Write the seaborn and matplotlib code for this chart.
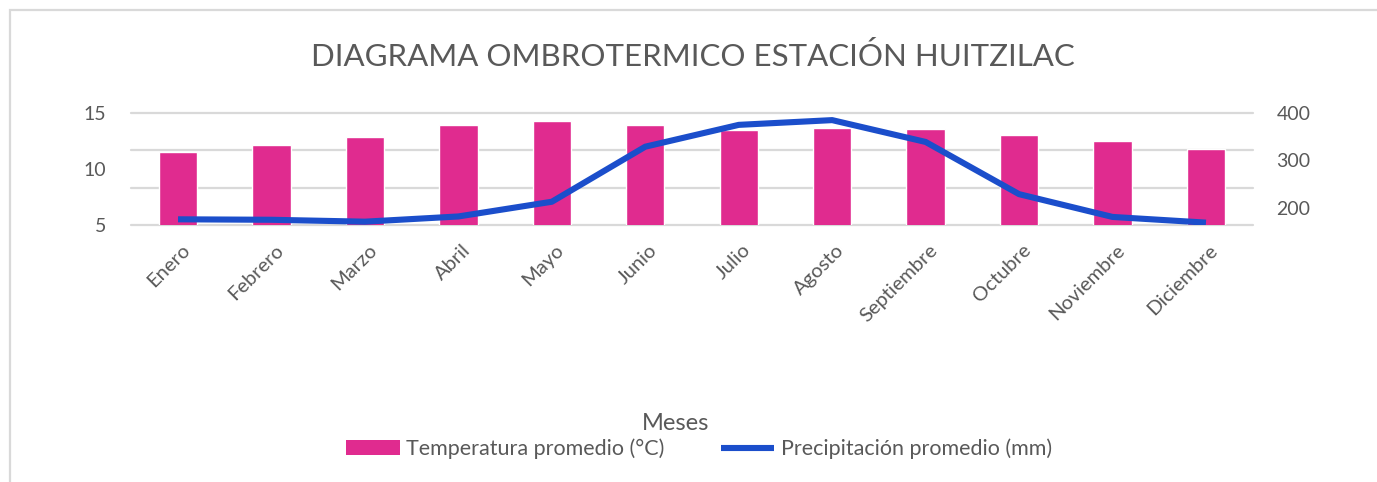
import numpy as np
import pandas as pd
import matplotlib
matplotlib.use("Agg")
import matplotlib.pyplot as plt
import matplotlib.transforms as mtransforms
import seaborn as sns
from matplotlib.patches import Patch, Rectangle
from matplotlib.lines import Line2D

# ---------------- data ----------------
months = ["Enero", "Febrero", "Marzo", "Abril", "Mayo", "Junio", "Julio",
          "Agosto", "Septiembre", "Octubre", "Noviembre", "Diciembre"]
temperatura = [11.5, 12.1, 12.9, 13.9, 14.3, 13.9, 13.5, 13.7, 13.6, 13.0, 12.5, 11.8]
precipitacion = [176, 175, 171, 182, 213, 329, 375, 385, 339, 229, 181, 169]
left_ticks = [5, 10, 15]
right_ticks = [200, 300, 400]

title = "DIAGRAMA OMBROTERMICO ESTACIÓN HUITZILAC"
xlabel = "Meses"
temp_label = "Temperatura promedio (°C)"
prec_label = "Precipitación promedio (mm)"

PINK = "#E02B8F"
BLUE = "#1B4ECB"
GRID = "#D9D9D9"
TXT = "#595959"

sns.set_theme(style="white")
plt.rcParams["font.family"] = ["Lato", "DejaVu Sans"]

W, H = 1377, 482
fig = plt.figure(figsize=(W / 100, H / 100), dpi=100)

# outer chart frame (light gray border)
fig.patches.append(Rectangle((10 / W, -0.2), 1.2, 1.2 - 10 / H,
                             transform=fig.transFigure, fill=False,
                             ec=GRID, lw=1.6, zorder=0))

ax = fig.add_axes([131.3 / W, 1 - 225 / H, (1252.7 - 131.3) / W, (225 - 113) / H])
df = pd.DataFrame({"Mes": months, "Temp": temperatura, "Prec": precipitacion})

# horizontal gridlines
for f in [0, 1 / 3, 2 / 3, 1]:
    ax.plot([0, 1], [f, f], transform=ax.transAxes, color=GRID, lw=1.6,
            zorder=0, clip_on=False)

sns.barplot(data=df, x="Mes", y="Temp", color=PINK, saturation=1, width=0.41,
            ax=ax, zorder=2)
ax.set_ylim(5, 15)
ax.set_yticks(left_ticks)

ax2 = ax.twinx()
sns.pointplot(data=df, x="Mes", y="Prec", color=BLUE, markers="", linestyles="-",
              errorbar=None, ax=ax2, linewidth=4.4, solid_capstyle="butt",
              solid_joinstyle="round")
ax2.set_ylim(164, 400)
ax2.set_yticks(right_ticks)
ax.set_xlim(-0.5, len(months) - 0.5)

for a in (ax, ax2):
    for s in a.spines.values():
        s.set_visible(False)
    a.set_xlabel("")
    a.set_ylabel("")
    a.grid(False)

ax.tick_params(axis="y", length=0, pad=18, labelsize=14, labelcolor=TXT)
ax2.tick_params(axis="y", length=0, pad=17, labelsize=14, labelcolor=TXT)
ax.tick_params(axis="x", length=0, pad=16, labelsize=14.5, labelcolor=TXT,
               labelrotation=45)
shift = mtransforms.ScaledTranslation(9 / 100, 0, fig.dpi_scale_trans)
for lbl in ax.get_xticklabels():
    lbl.set_ha("right")
    lbl.set_va("center")
    lbl.set_rotation_mode("anchor")
    lbl.set_transform(lbl.get_transform() + shift)

fig.text(693 / W, 1 - 57 / H, title, ha="center", va="center", fontsize=22.5,
         color=TXT, fontweight="normal")
fig.text(676 / W, 1 - 423 / H, xlabel, ha="center", va="center", fontsize=17,
         color=TXT)

handles = [Patch(facecolor=PINK, edgecolor="none", label=temp_label),
           Line2D([0], [0], color=BLUE, lw=4.4, solid_capstyle="butt",
                  label=prec_label)]
fig.legend(handles=handles, loc="center", bbox_to_anchor=(699 / W, 1 - 449 / H),
           ncol=2, frameon=False, fontsize=15.5, handlelength=2.5,
           columnspacing=2.6, handletextpad=0.3, labelcolor=TXT)

fig.savefig("out.png", dpi=100, facecolor="white")
